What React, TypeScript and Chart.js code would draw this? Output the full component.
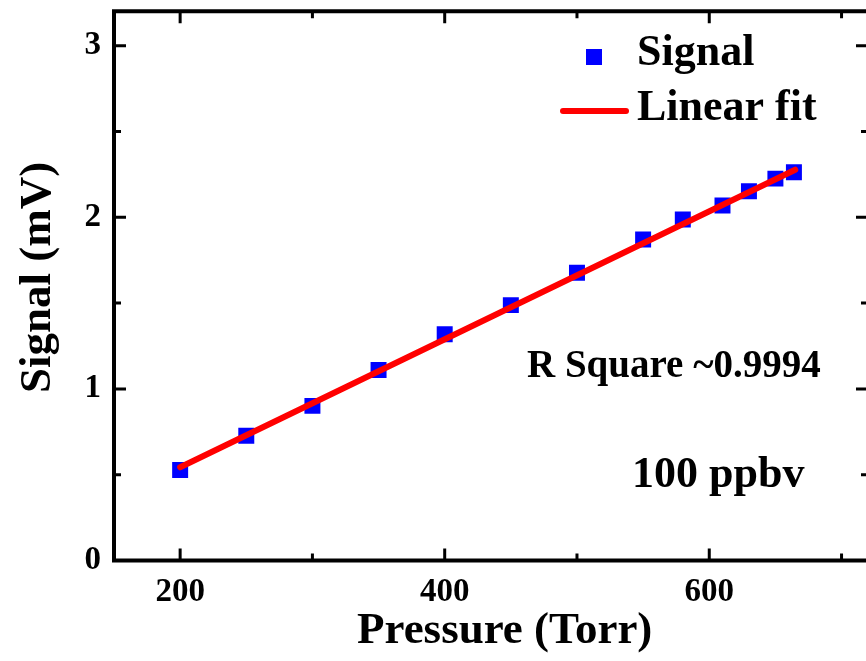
import React, { useEffect, useRef } from "react";
import { Chart, registerables } from "chart.js";
Chart.register(...registerables);

// ---- data ----
const pressure = [200, 250, 300, 350, 400, 450, 500, 550, 580, 610, 630, 650, 664];
const signal = [0.527, 0.727, 0.901, 1.11, 1.318, 1.488, 1.676, 1.87, 1.987, 2.068, 2.151, 2.225, 2.262];
const fitX = [200, 665];
const fitY = [0.543, 2.277];
const xMajor = [200, 400, 600];
const xMinor = [300, 500, 700];
const yMajor = [0, 1, 2, 3];
const yMinor = [0.5, 1.5, 2.5];
const xRange = [150, 720];
const yRange = [0, 3.2];
const legendLabels = ["Signal", "Linear fit"];
const xTitle = "Pressure (Torr)";
const yTitle = "Signal (mV)";
const rSquareText = "R Square ~0.9994";
const concText = "100 ppbv";

const FONT = '"Liberation Serif", "Times New Roman", serif';
const BLUE = "#0000ff";
const RED = "#ff0000";

const decorPlugin = {
  id: "decor",
  afterDraw(chart: any) {
    const ctx = chart.ctx;
    const { left, right, top, bottom } = chart.chartArea;
    const xs = chart.scales.x;
    const ys = chart.scales.y;
    ctx.save();
    ctx.strokeStyle = "#000";
    ctx.lineWidth = 4;
    ctx.lineCap = "butt";
    // frame
    ctx.beginPath();
    ctx.moveTo(left, top);
    ctx.lineTo(right, top);
    ctx.moveTo(left, top - 2);
    ctx.lineTo(left, bottom + 2);
    ctx.moveTo(left, bottom);
    ctx.lineTo(right, bottom);
    ctx.moveTo(right, top);
    ctx.lineTo(right, bottom);
    ctx.stroke();
    // inward ticks
    ctx.lineWidth = 3;
    const major = 12;
    const minor = 7;
    ctx.beginPath();
    const xt = (vals: number[], len: number) => {
      vals.forEach((v) => {
        const px = xs.getPixelForValue(v);
        ctx.moveTo(px, bottom);
        ctx.lineTo(px, bottom - len);
        ctx.moveTo(px, top);
        ctx.lineTo(px, top + len);
      });
    };
    const yt = (vals: number[], len: number) => {
      vals.forEach((v) => {
        const py = ys.getPixelForValue(v);
        ctx.moveTo(left, py);
        ctx.lineTo(left + len, py);
        ctx.moveTo(right, py);
        ctx.lineTo(right - len, py);
      });
    };
    xt(xMajor, major);
    xt(xMinor, minor);
    yt(yMajor, major);
    yt(yMinor, minor);
    ctx.stroke();

    ctx.fillStyle = "#000";
    ctx.textAlign = "left";
    ctx.textBaseline = "alphabetic";
    // axis titles
    ctx.font = `bold 45px ${FONT}`;
    ctx.fillText(xTitle, 357, 643);
    ctx.save();
    ctx.translate(50, 393);
    ctx.rotate(-Math.PI / 2);
    ctx.fillText(yTitle, 0, 0);
    ctx.restore();

    // legend
    ctx.fillStyle = BLUE;
    ctx.fillRect(594 - 8, 57 - 8, 16, 16);
    ctx.strokeStyle = RED;
    ctx.lineWidth = 6;
    ctx.lineCap = "round";
    ctx.beginPath();
    ctx.moveTo(563, 111);
    ctx.lineTo(626, 111);
    ctx.stroke();
    ctx.fillStyle = "#000";
    ctx.font = `bold 44px ${FONT}`;
    ctx.fillText(legendLabels[0], 637, 65);
    ctx.fillText(legendLabels[1], 637, 120);

    // annotations
    ctx.font = `bold 39px ${FONT}`;
    ctx.fillText(rSquareText, 527, 377);
    ctx.font = `bold 44px ${FONT}`;
    ctx.fillText(concText, 632, 487);
    ctx.restore();
  },
};

export default function App() {
  const ref = useRef<HTMLCanvasElement>(null);
  useEffect(() => {
    if (!ref.current) return;
    const chart = new Chart(ref.current, {
      type: "scatter",
      data: {
        datasets: [
          {
            type: "line",
            label: legendLabels[1],
            data: fitX.map((x, i) => ({ x, y: fitY[i] })),
            borderColor: RED,
            borderWidth: 6,
            borderCapStyle: "round",
            pointRadius: 0,
            showLine: true,
            fill: false,
            order: 0,
          } as any,
          {
            type: "scatter",
            label: legendLabels[0],
            data: pressure.map((x, i) => ({ x, y: signal[i] })),
            pointStyle: "rect",
            pointRadius: 11.3,
            pointHoverRadius: 11.3,
            backgroundColor: BLUE,
            borderWidth: 0,
            order: 1,
          } as any,
        ],
      },
      options: {
        animation: false,
        responsive: false,
        devicePixelRatio: 1,
        layout: { padding: { left: 0, top: 10.5, right: 32, bottom: 0 } },
        plugins: { legend: { display: false }, tooltip: { enabled: false } },
        scales: {
          x: {
            type: "linear",
            min: xRange[0],
            max: xRange[1],
            grid: { display: false },
            border: { display: false },
            afterBuildTicks: (s: any) => {
              s.ticks = xMajor.map((v) => ({ value: v }));
            },
            afterFit: (s: any) => {
              s.height = 100.5;
              s.paddingLeft = 0;
              s.paddingRight = 0;
            },
            ticks: {
              color: "#000",
              padding: 4,
              maxRotation: 0,
              autoSkip: false,
              font: { family: FONT, weight: "bold", size: 33 },
            },
          },
          y: {
            type: "linear",
            min: yRange[0],
            max: yRange[1],
            grid: { display: false },
            border: { display: false },
            afterBuildTicks: (s: any) => {
              s.ticks = yMajor.map((v) => ({ value: v }));
            },
            afterFit: (s: any) => {
              s.width = 114;
              s.paddingTop = 0;
              s.paddingBottom = 0;
            },
            ticks: {
              color: "#000",
              padding: 5,
              autoSkip: false,
              font: { family: FONT, weight: "bold", size: 33 },
            },
          },
        },
      } as any,
      plugins: [decorPlugin],
    });
    return () => chart.destroy();
  }, []);
  return (
    <div
      style={{
        position: "fixed",
        left: 0,
        top: 0,
        width: 866,
        height: 661,
        overflow: "hidden",
        background: "#fff",
      }}
    >
      <canvas ref={ref} width={900} height={661} style={{ display: "block" }} />
    </div>
  );
}
